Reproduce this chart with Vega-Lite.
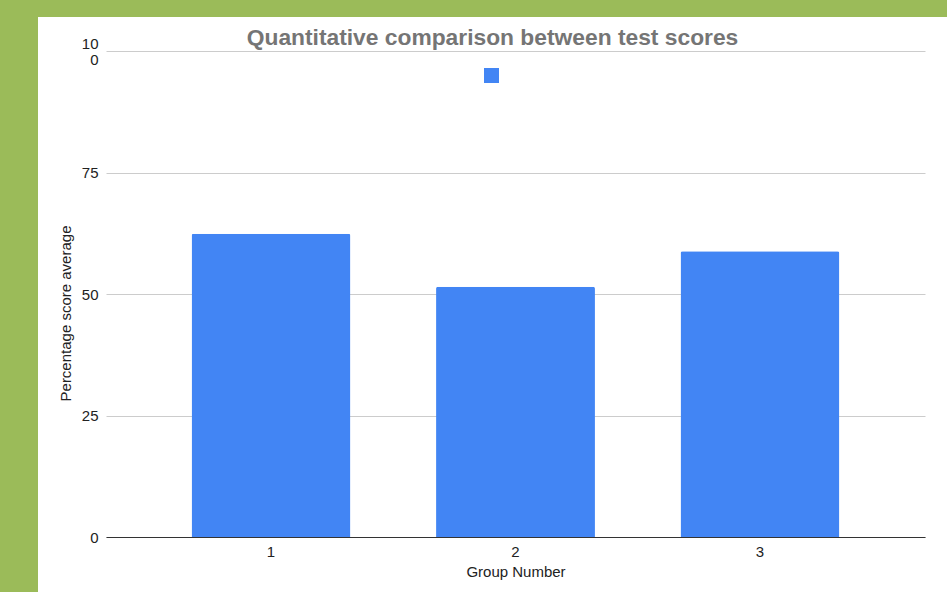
{
  "$schema": "https://vega.github.io/schema/vega-lite/v6.json",
  "width": 909,
  "height": 575,
  "autosize": "none",
  "padding": {"left": 38, "top": 17, "right": 0, "bottom": 0},
  "background": "#9BBB59",
  "config": {
    "view": {"fill": "white", "stroke": null},
    "font": "Liberation Sans"
  },
  "title": {
    "text": "Quantitative comparison between test scores",
    "fontSize": 22.8,
    "fontWeight": "bold",
    "color": "#757575",
    "anchor": "middle",
    "frame": "group",
    "offset": -51,
    "baseline": "alphabetic"
  },
  "data": {
    "values": [
      {"group": "1", "score": 62.4, "series": "Average"},
      {"group": "2", "score": 51.5, "series": "Average"},
      {"group": "3", "score": 58.8, "series": "Average"}
    ]
  },
  "mark": {
    "type": "bar",
    "cornerRadiusTopLeft": 2,
    "cornerRadiusTopRight": 2
  },
  "encoding": {
    "x": {
      "field": "group",
      "type": "ordinal",
      "scale": {"range": [68, 887], "paddingInner": 0.35, "paddingOuter": 0.35},
      "axis": {
        "title": "Group Number",
        "labelAngle": 0,
        "offset": -55,
        "ticks": false,
        "domainColor": "#333333",
        "labelFontSize": 15,
        "labelColor": "#222222",
        "labelPadding": 7,
        "titleFontSize": 15,
        "titleFontWeight": "normal",
        "titleColor": "#222222",
        "titlePadding": 5
      }
    },
    "y": {
      "field": "score",
      "type": "quantitative",
      "scale": {"domain": [0, 100], "range": [520, 34]},
      "axis": {
        "values": [0, 25, 50, 75, 100],
        "offset": -68,
        "domain": false,
        "ticks": false,
        "gridColor": "#cccccc",
        "labelExpr": "datum.value == 100 ? ['10', '0'] : datum.label",
        "labelOffset": {"condition": {"test": "datum.value == 100", "value": -8}, "value": 0},
        "labelLineHeight": 16,
        "labelFontSize": 15,
        "labelColor": "#222222",
        "labelPadding": 8,
        "title": "Percentage score average",
        "titleFontSize": 15,
        "titleFontWeight": "normal",
        "titleColor": "#222222",
        "titleX": -41,
        "titleY": 296,
        "titleAngle": -90,
        "titleBaseline": "middle",
        "titleAlign": "center"
      }
    },
    "color": {
      "field": "series",
      "type": "nominal",
      "scale": {"range": ["#4285F4"]},
      "legend": {
        "orient": "none",
        "legendX": 446,
        "legendY": 51,
        "title": null,
        "symbolType": "square",
        "symbolSize": 225,
        "symbolStrokeWidth": 0,
        "symbolFillColor": "#4285F4",
        "labelExpr": "''",
        "padding": 0
      }
    }
  }
}
